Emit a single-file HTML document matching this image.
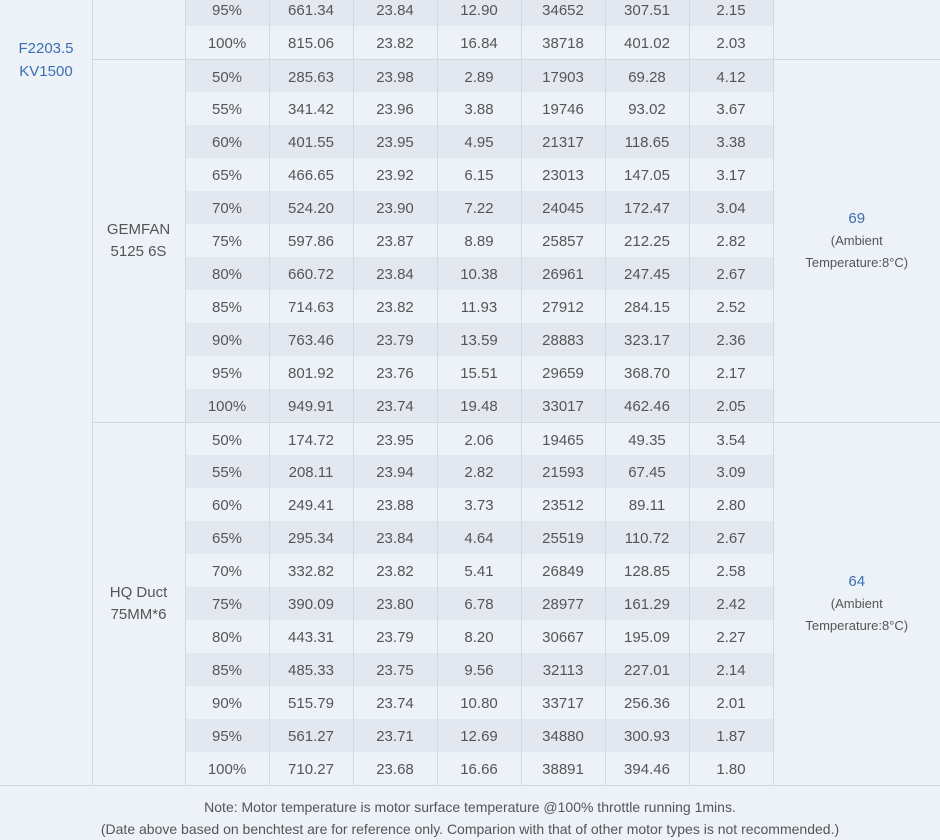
<!DOCTYPE html><html><head><style>
body{margin:0;width:940px;height:839px;overflow:hidden;background:#edf1f8;font-family:"Liberation Sans",sans-serif;color:#555;position:relative}
table{position:absolute;top:-7px;left:0;border-collapse:collapse;table-layout:fixed;width:940px}
td{height:33px;padding:0;text-align:center;font-size:15px;border-left:1px solid #d3d8e0;border-top:none}
td.v{background:#edf1f8;padding-top:2px;height:31px}
tr.g td{border-top:1px solid #d3d8e0;height:32px}
tr.g td.v{height:30px}
tr.d td.v{background:#e3e8f0}
td.m{border-left:none}
td.t{line-height:22px}
.t b{font-weight:normal;color:#3a6fb0;font-size:15px}
.t span{font-size:13px}
.mn{position:absolute;left:0;width:92px;top:37px;text-align:center;color:#3a6fb0;font-size:15px;line-height:23px}
.note{position:absolute;top:796px;left:0;width:940px;text-align:center;font-size:14px;line-height:22px}
</style></head><body>
<table id="t">
<colgroup><col style="width:92px"><col style="width:93px"><col style="width:84px"><col style="width:84px"><col style="width:84px"><col style="width:84px"><col style="width:84px"><col style="width:84px"><col style="width:84px"><col style="width:167px"></colgroup>
</table>
<div class="mn">F2203.5<br>KV1500</div>
<div class="note">Note: Motor temperature is motor surface temperature @100% throttle running 1mins.<br>(Date above based on benchtest are for reference only. Comparion with that of other motor types is not recommended.)</div>
<script>
var A=[["95%","661.34","23.84","12.90","34652","307.51","2.15"],["100%","815.06","23.82","16.84","38718","401.02","2.03"]];
var B=[["50%","285.63","23.98","2.89","17903","69.28","4.12"],["55%","341.42","23.96","3.88","19746","93.02","3.67"],["60%","401.55","23.95","4.95","21317","118.65","3.38"],["65%","466.65","23.92","6.15","23013","147.05","3.17"],["70%","524.20","23.90","7.22","24045","172.47","3.04"],["75%","597.86","23.87","8.89","25857","212.25","2.82"],["80%","660.72","23.84","10.38","26961","247.45","2.67"],["85%","714.63","23.82","11.93","27912","284.15","2.52"],["90%","763.46","23.79","13.59","28883","323.17","2.36"],["95%","801.92","23.76","15.51","29659","368.70","2.17"],["100%","949.91","23.74","19.48","33017","462.46","2.05"]];
var C=[["50%","174.72","23.95","2.06","19465","49.35","3.54"],["55%","208.11","23.94","2.82","21593","67.45","3.09"],["60%","249.41","23.88","3.73","23512","89.11","2.80"],["65%","295.34","23.84","4.64","25519","110.72","2.67"],["70%","332.82","23.82","5.41","26849","128.85","2.58"],["75%","390.09","23.80","6.78","28977","161.29","2.42"],["80%","443.31","23.79","8.20","30667","195.09","2.27"],["85%","485.33","23.75","9.56","32113","227.01","2.14"],["90%","515.79","23.74","10.80","33717","256.36","2.01"],["95%","561.27","23.71","12.69","34880","300.93","1.87"],["100%","710.27","23.68","16.66","38891","394.46","1.80"]];
var h="",i=0;
function row(r,pre,g){var s='<tr class="'+(i%2==0?'d':'')+(g?' g':'')+'">'+pre;r.forEach(function(c){s+='<td class="v">'+c+'</td>'});i++;return s}
A.forEach(function(r,k){h+=row(r,k==0?'<td class="m" rowspan="24"></td><td rowspan="2"></td>':'',false)+(k==0?'<td rowspan="2"></td>':'')+'</tr>'});
B.forEach(function(r,k){h+=row(r,k==0?'<td rowspan="11" class="t">GEMFAN<br>5125 6S</td>':'',k==0)+(k==0?'<td rowspan="11" class="t"><b>69</b><br><span>(Ambient<br>Temperature:8°C)</span></td>':'')+'</tr>'});
C.forEach(function(r,k){h+=row(r,k==0?'<td rowspan="11" class="t">HQ Duct<br>75MM*6</td>':'',k==0)+(k==0?'<td rowspan="11" class="t"><b>64</b><br><span>(Ambient<br>Temperature:8°C)</span></td>':'')+'</tr>'});
h+='<tr class="g"><td colspan="10" style="height:0;border-left:none"></td></tr>';
document.getElementById("t").innerHTML+=h;
</script>
</body></html>
